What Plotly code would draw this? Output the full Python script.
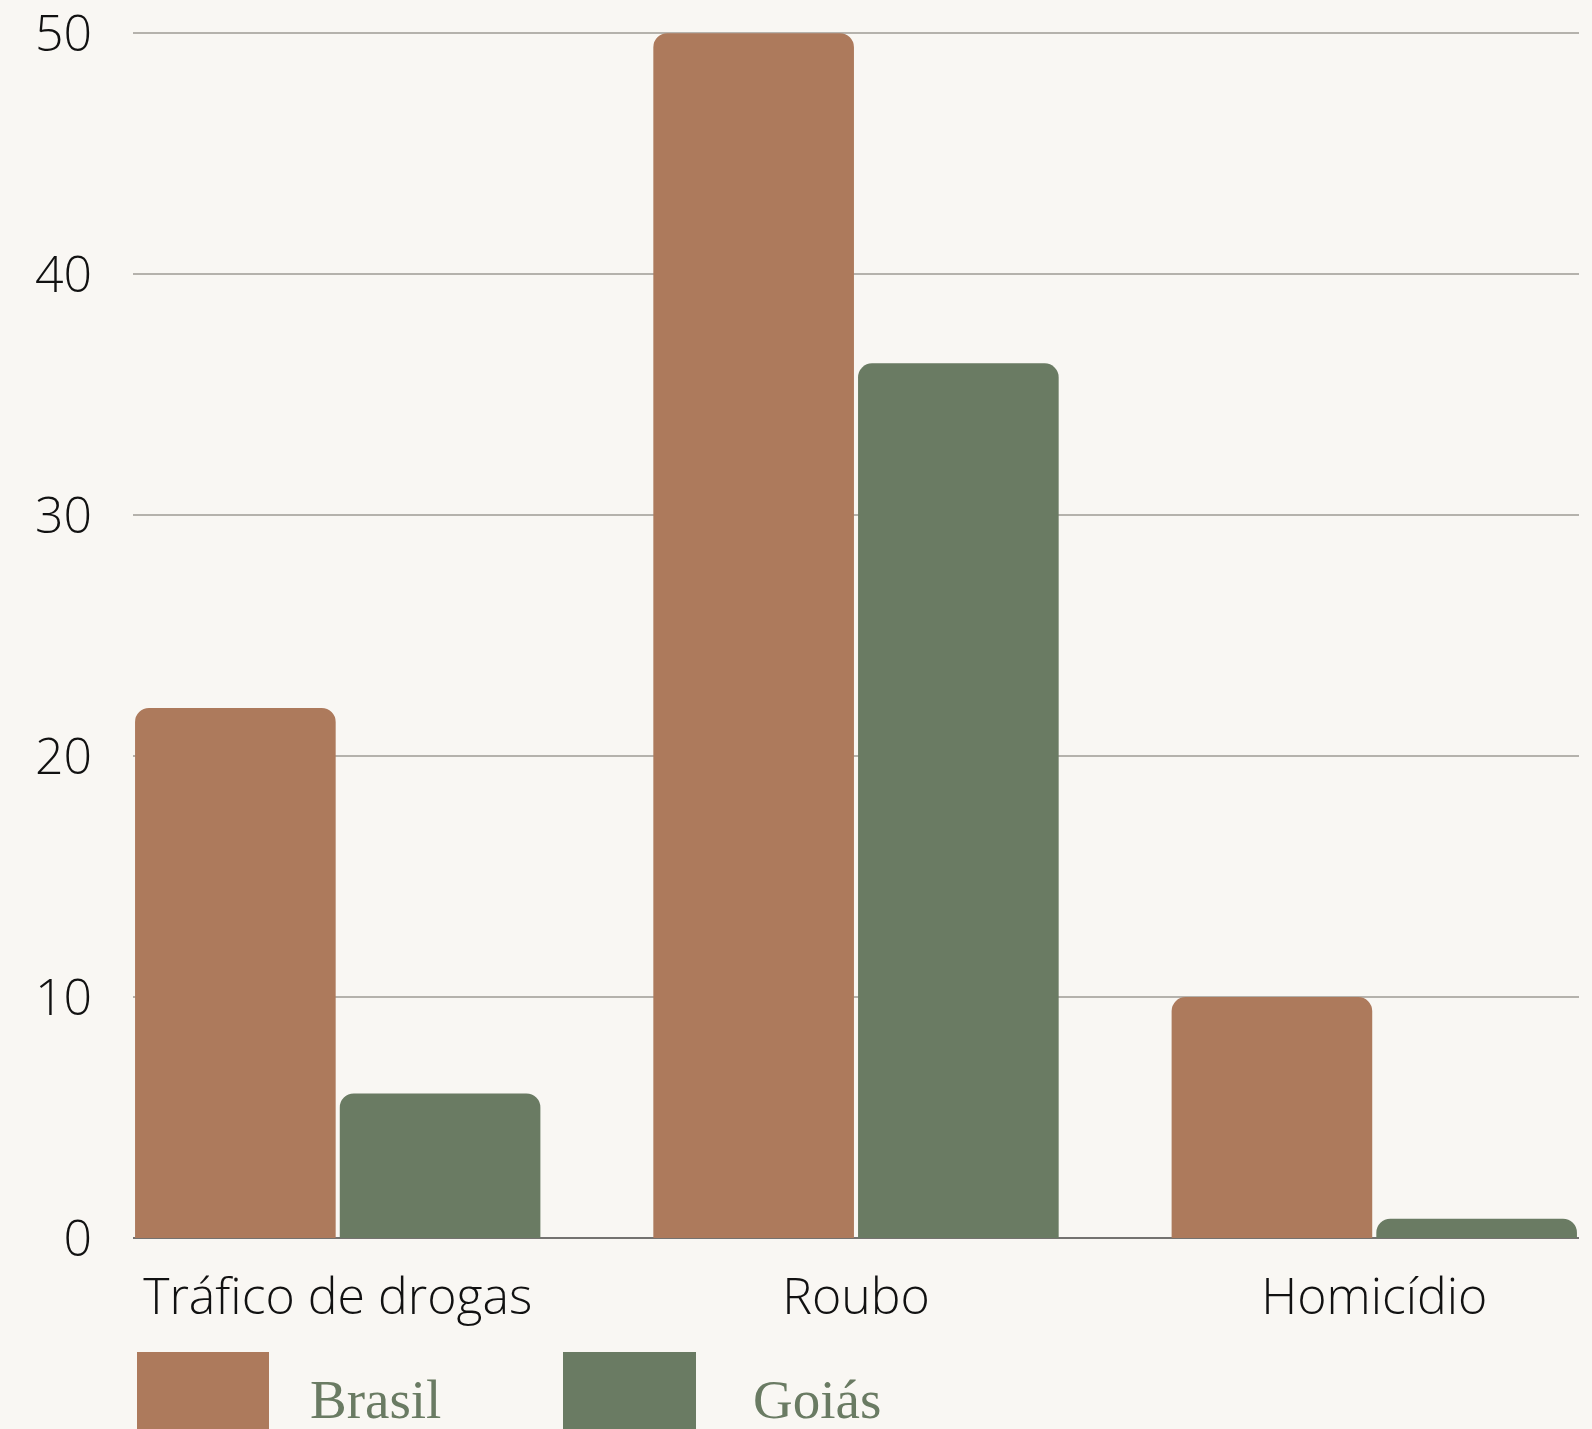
import plotly.graph_objects as go

categories = ["Tráfico de drogas", "Roubo", "Homicídio"]
brasil = [22, 50, 10]
goias = [6, 36.3, 0.8]
series_names = ["Brasil", "Goiás"]
colors = ["#ad7a5c", "#6a7b63"]
y_ticks = [0, 10, 20, 30, 40, 50]

W, H = 1592, 1429
ml, mr, mt, mb = 133, 13, 32, 191
pw, ph = W - ml - mr, H - mt - mb

fig = go.Figure()
for name, vals, col in zip(series_names, [brasil, goias], colors):
    fig.add_trace(go.Bar(x=categories, y=vals, name=name, marker_color=col,
                         marker_line_width=0, showlegend=False))

def px(x):
    return (x - ml) / pw

def py(y):
    return (H - mb - y) / ph

# custom legend (large swatches)
legend_pos = [(137, 269, 308), (563, 696, 751)]
for (x0, x1, tx), name, col in zip(legend_pos, series_names, colors):
    fig.add_shape(type="rect", xref="paper", yref="paper",
                  x0=px(x0), x1=px(x1), y0=py(1352), y1=py(1460),
                  fillcolor=col, line_width=0, layer="above")
    fig.add_annotation(text=name, xref="paper", yref="paper", x=px(tx), y=py(1399),
                       xanchor="left", yanchor="middle", showarrow=False,
                       font=dict(family="Liberation Serif, Times New Roman, serif",
                                 size=55, color="#6a7b63"))

tick_font = dict(family="Open Sans", size=50, color="#111111", weight=300)

fig.update_layout(
    width=W, height=H,
    margin=dict(l=ml, r=mr, t=mt, b=mb, pad=0, autoexpand=False),
    paper_bgcolor="#f9f7f3", plot_bgcolor="#f9f7f3",
    barmode="group", bargap=0.21, bargroupgap=0.02,
    barcornerradius=14,
    font=tick_font,
)
fig.update_xaxes(range=[-0.395, 2.395], showgrid=False, showline=False,
                 ticks="", ticklabelstandoff=25, automargin=False,
                 ticklabeloverflow="allow", tickfont=tick_font)
fig.update_yaxes(range=[0, 50.05], tickvals=y_ticks, showgrid=True, gridcolor="#b5b2ac",
                 gridwidth=1.5, zeroline=True, zerolinecolor="#747270", zerolinewidth=2,
                 showline=False, ticks="", ticklabelstandoff=40, automargin=False,
                 ticklabeloverflow="allow", tickfont=tick_font)

fig.write_html("out.html")
